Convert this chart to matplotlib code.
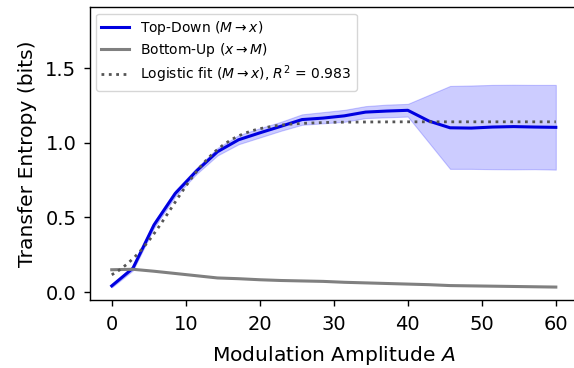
import numpy as np
import matplotlib.pyplot as plt

# modulation amplitudes where TE was estimated
amp = [0.0, 2.86, 5.71, 8.57, 11.43, 14.29, 17.14, 20.0, 22.86, 25.71, 28.57,
       31.43, 34.29, 37.14, 40.0, 42.86, 45.71, 48.57, 51.43, 54.29, 57.14, 60.0]

te_top_down = [0.042, 0.16, 0.45, 0.66, 0.81, 0.94, 1.02, 1.066, 1.11, 1.155, 1.165,
               1.18, 1.205, 1.212, 1.217, 1.145, 1.10, 1.098, 1.105, 1.108, 1.105, 1.103]
td_lower = [0.032, 0.145, 0.43, 0.64, 0.79, 0.915, 0.99, 1.035, 1.08, 1.12, 1.13,
            1.14, 1.165, 1.17, 1.175, 1.0, 0.825, 0.825, 0.823, 0.822, 0.823, 0.82]
td_upper = [0.052, 0.175, 0.47, 0.68, 0.83, 0.965, 1.05, 1.097, 1.14, 1.19, 1.205,
            1.22, 1.245, 1.255, 1.26, 1.32, 1.38, 1.383, 1.387, 1.388, 1.387, 1.387]

te_bottom_up = [0.150, 0.153, 0.14, 0.125, 0.11, 0.095, 0.09, 0.083, 0.078, 0.075, 0.072,
                0.066, 0.062, 0.058, 0.054, 0.05, 0.044, 0.042, 0.040, 0.038, 0.036, 0.034]

# logistic fit curve
fit_amp = [0, 1, 2, 3, 4, 5, 6, 7, 8, 9, 10, 11, 12, 13, 14, 15, 16, 17, 18, 19, 20,
           22, 24, 26, 28, 30, 35, 40, 45, 50, 55, 60]
fit_te = [0.116, 0.147, 0.185, 0.230, 0.283, 0.343, 0.411, 0.484, 0.559, 0.635, 0.709,
          0.778, 0.841, 0.896, 0.943, 0.983, 1.016, 1.043, 1.064, 1.081, 1.094,
          1.113, 1.124, 1.130, 1.134, 1.137, 1.139, 1.14, 1.14, 1.14, 1.14, 1.14]
r2 = 0.983

plt.rcParams['axes.linewidth'] = 1.0

fig = plt.figure(figsize=(5.74, 3.68), dpi=100)
ax = fig.add_axes([0.156, 0.185, 0.851, 0.795])

ax.plot(amp, te_top_down, color='#0000e0', lw=2.2, label=r'Top-Down ($M\rightarrow x$)')
ax.fill_between(amp, td_lower, td_upper, color='#0000ff', alpha=0.2, lw=0.8)
ax.plot(amp, te_bottom_up, color='gray', lw=2.2, label=r'Bottom-Up ($x\rightarrow M$)')
ax.plot(fit_amp, fit_te, ':', color='#555555', lw=2.0,
        label=r'Logistic fit ($M\rightarrow x$), $R^2$ = %.3f' % r2)

ax.set_xlim(-3, 63)
ax.set_ylim(-0.052, 1.906)
ax.set_xticks(range(0, 61, 10))
ax.set_yticks([0.0, 0.5, 1.0, 1.5])
ax.spines['right'].set_visible(False)  # cropped off in the original
ax.tick_params(labelsize=14, length=4.5, width=1.0, pad=5)
ax.tick_params(axis='x', pad=6.5)
ax.set_xlabel('Modulation Amplitude $A$', fontsize=14.6, labelpad=7)
ax.set_ylabel('Transfer Entropy (bits)', fontsize=14.6, labelpad=6)
ax.legend(loc='upper left', fontsize=10, labelspacing=0.3, borderaxespad=0.45)

fig.savefig('out.png', dpi=100)
